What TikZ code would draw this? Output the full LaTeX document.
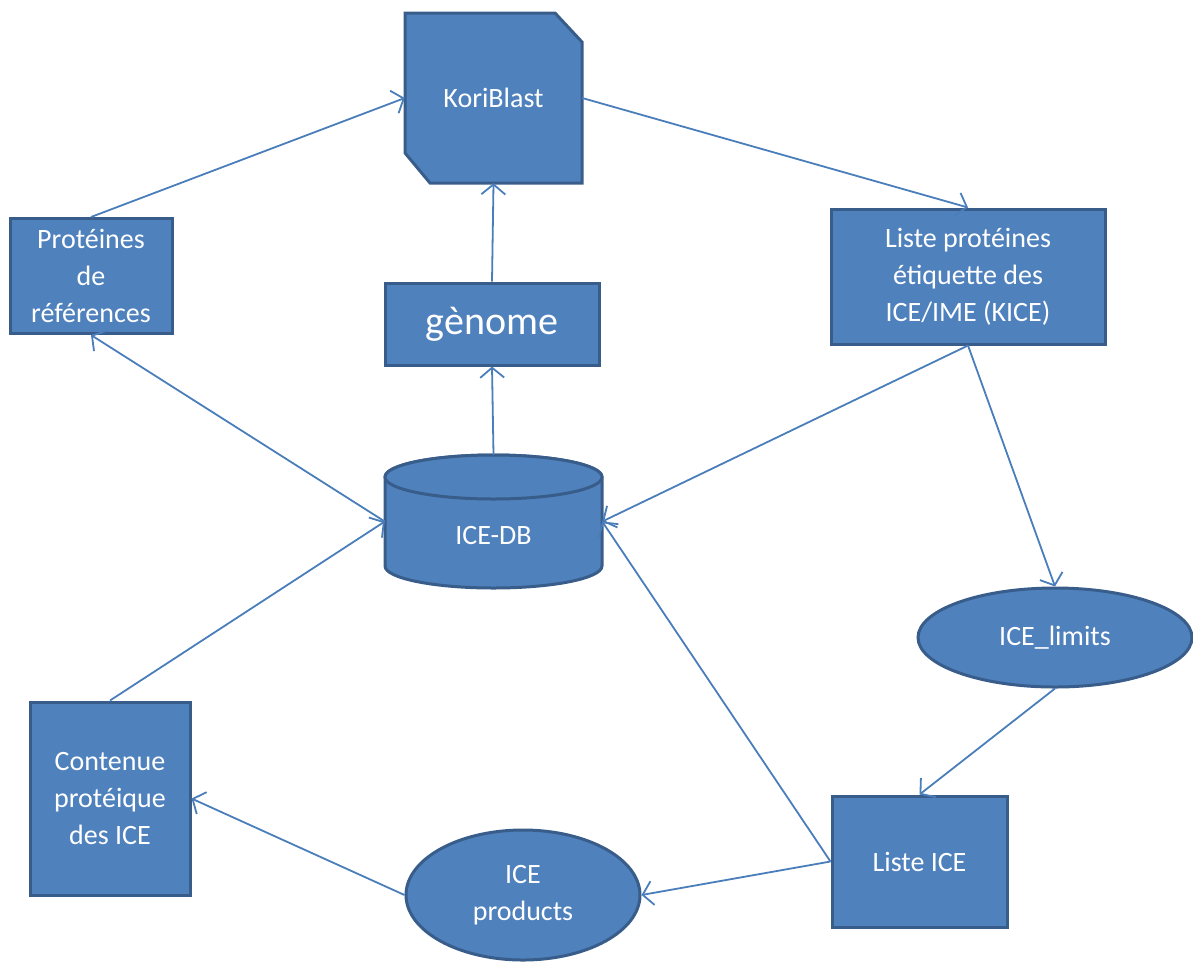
\documentclass[tikz,border=0pt]{standalone}
\usepackage{fontspec}
\setmainfont{Carlito}
\usetikzlibrary{arrows.meta,shapes.geometric}
\definecolor{boxfill}{HTML}{4F81BD}
\definecolor{boxline}{HTML}{385D8A}
\definecolor{arrline}{HTML}{4A7EBB}
\begin{document}
\begin{tikzpicture}[x=1pt,y=-1pt,
  shp/.style={draw=boxline, fill=boxfill, line width=3pt},
  txt/.style={text=white, font=\fontsize{28}{37}\selectfont, align=center, inner sep=0pt},
  rbox/.style={shp, txt, rectangle, minimum width=#1},
  ebox/.style={shp, txt, ellipse, minimum width=#1},
  ghost/.style={draw=none, fill=none, inner sep=0pt, rectangle},
  arr/.style={draw=arrline, line width=1.8pt, -{Straight Barb[length=10pt,width=24pt]}}
]
\useasboundingbox (0,0) rectangle (1193,962);

% KoriBlast (snipped corners)
\path[shp] (405,13) -- (555,13) -- (582,42) -- (582,183) -- (430,183) -- (405,153) -- cycle;
\node[ghost, txt, minimum width=177, minimum height=170] (kori) at (493.5,98) {KoriBlast};

% ICE-DB cylinder
\path[shp] (385,477) -- (385,566) arc[start angle=180, end angle=360, x radius=108.5pt, y radius=22pt]
  -- (602,477) arc[start angle=0, end angle=180, x radius=108.5pt, y radius=22pt] -- cycle;
\draw[shp] (493.5,477) ellipse [x radius=108.5pt, y radius=22pt];
\node[ghost, minimum width=217, minimum height=133] (db) at (493.5,521.5) {};
\node[txt] (dbtext) at (493.5,535) {ICE-DB};

\node[rbox=162, minimum height=115] (prot) at (91,276) {Protéines\\de\\références};
\node[rbox=214, minimum height=82, font=\fontsize{40}{48}\selectfont] (genome) at (492,324) {gènome};
\node[rbox=274, minimum height=135] (liste) at (968,276.5) {Liste protéines\\étiquette des\\ICE/IME (KICE)};
\node[ebox=274, minimum height=99] (limits) at (1055,637.5) {ICE\_limits};
\node[rbox=160, minimum height=193] (cont) at (110,798.5) {Contenue\\protéique\\des ICE};
\node[ebox=234, minimum height=130] (prod) at (523,895) {ICE\\products};
\node[rbox=175, minimum height=131] (lice) at (919.5,861.5) {Liste ICE};

% connectors
\draw[arr] (prot.north) -- (kori.west);
\draw[arr] (genome.north) -- (kori.south);
\draw[arr] (db.north) -- (genome.south);
\draw[arr] (db.west) -- (prot.south);
\draw[arr] (kori.east) -- (liste.north);
\draw[arr] (liste.south) -- (db.east);
\draw[arr] (liste.south) -- (limits.north);
\draw[arr] (limits.south) -- (lice.north);
\draw[arr] (lice.west) -- (db.east);
\draw[arr] (lice.west) -- (prod.east);
\draw[arr] (prod.west) -- (cont.east);
\draw[arr] (cont.north) -- (db.west);
\end{tikzpicture}
\end{document}
